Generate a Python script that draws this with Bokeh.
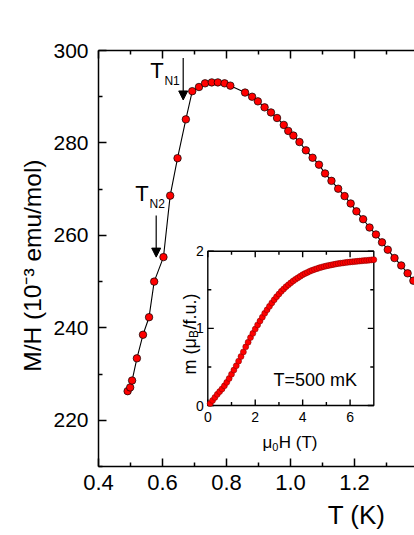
from math import pi
from bokeh.plotting import figure
from bokeh.models import Range1d, LinearAxis, FixedTicker, Label, Arrow, NormalHead, Title
from bokeh.embed import file_html
from bokeh.resources import INLINE
from bokeh.core.properties import value

# ---------------- main data: M/H vs T ----------------
T_K = [0.491, 0.499, 0.505, 0.520, 0.539, 0.558, 0.574, 0.603, 0.624, 0.647,
       0.673, 0.693, 0.714, 0.733, 0.754, 0.773, 0.794, 0.812, 0.858, 0.880,
       0.898, 0.919, 0.939, 0.958, 0.979, 0.993, 1.009, 1.028, 1.048, 1.069,
       1.089, 1.108, 1.128, 1.149, 1.169, 1.188, 1.206, 1.227, 1.247, 1.267,
       1.286, 1.304, 1.325, 1.346, 1.366, 1.384]
MH = [226.3, 227.1, 228.6, 233.4, 238.5, 242.3, 250.0, 255.3, 268.6, 276.7,
      285.1, 291.2, 292.1, 292.9, 293.1, 293.1, 292.9, 292.4, 290.9, 290.0,
      289.0, 287.7, 286.6, 285.4, 283.9, 282.6, 281.6, 280.2, 278.4, 276.8,
      275.3, 273.4, 271.8, 270.1, 268.5, 266.9, 265.2, 263.5, 261.7, 260.2,
      258.5, 256.9, 255.1, 253.5, 251.8, 250.2]

X_TICKS = [0.4, 0.6, 0.8, 1.0, 1.2, 1.4]
X_TICK_LABELS = ["0.4", "0.6", "0.8", "1.0", "1.2", "1.4"]
X_MINOR = [0.5, 0.7, 0.9, 1.1, 1.3]
Y_TICKS = [220, 240, 260, 280, 300]
Y_TICK_LABELS = ["220", "240", "260", "280", "300"]
Y_MINOR = [210, 230, 250, 270, 290]

# transition markers (T, M/H start, M/H end of arrow)
TN1 = (0.6647, 298.4, 289.3)
TN2 = (0.5803, 264.3, 255.3)

# ---------------- inset data: m vs mu0 H ----------------
H_T = [0.1, 0.2, 0.3, 0.4, 0.5, 0.6, 0.7, 0.8, 0.9, 1.0,
       1.1, 1.2, 1.3, 1.4, 1.5, 1.6, 1.7, 1.8, 1.9, 2.0,
       2.1, 2.2, 2.3, 2.4, 2.5, 2.6, 2.7, 2.8, 2.9, 3.0,
       3.1, 3.2, 3.3, 3.4, 3.5, 3.6, 3.7, 3.8, 3.9, 4.0,
       4.1, 4.2, 4.3, 4.4, 4.5, 4.6, 4.7, 4.8, 4.9, 5.0,
       5.1, 5.2, 5.3, 5.4, 5.5, 5.6, 5.7, 5.8, 5.9, 6.0,
       6.1, 6.2, 6.3, 6.4, 6.5, 6.6, 6.7, 6.8, 6.9, 7.0]
M_MUB = [0.025, 0.065, 0.105, 0.145, 0.18, 0.215, 0.255, 0.30, 0.35, 0.405,
         0.46, 0.515, 0.575, 0.635, 0.695, 0.76, 0.82, 0.88, 0.935, 0.99,
         1.045, 1.095, 1.145, 1.195, 1.24, 1.285, 1.33, 1.37, 1.41, 1.445,
         1.48, 1.51, 1.54, 1.565, 1.59, 1.615, 1.635, 1.655, 1.675, 1.695,
         1.71, 1.725, 1.74, 1.752, 1.764, 1.774, 1.784, 1.793, 1.801, 1.809,
         1.816, 1.822, 1.828, 1.834, 1.839, 1.844, 1.848, 1.852, 1.856, 1.86,
         1.863, 1.866, 1.869, 1.872, 1.875, 1.878, 1.881, 1.884, 1.887, 1.89]
INSET_X_TICKS = [0, 2, 4, 6]
INSET_X_LABELS = ["0", "2", "4", "6"]
INSET_X_MINOR = [1, 3, 5]
INSET_Y_TICKS = [0, 1, 2]
INSET_Y_LABELS = ["0", "1", "2"]
INSET_Y_MINOR = [0.5, 1.5]
INSET_XLIM = (0, 7)
INSET_YLIM = (0, 2)

# ---------------- layout ----------------
FONT = "Liberation Sans"
W, H = 414, 535
BL, BR, BT, BB = 98, 0, 50, 69
FW, FH = W - BL - BR, H - BT - BB
X0 = 0.4
X_PER_PX = 0.2 / 64.0
# inset box in px measured from frame left / frame bottom
IN_L, IN_R, IN_B, IN_T = 109.3, 275.3, 61.0, 215.3

p = figure(width=W, height=H, output_backend="svg", toolbar_location=None,
           x_range=Range1d(X0, X0 + FW * X_PER_PX), y_range=Range1d(210, 300),
           min_border_left=BL, min_border_right=BR, min_border_top=BT,
           min_border_bottom=BB, background_fill_color="white",
           border_fill_color="white")
p.outline_line_color = None
p.xgrid.visible = False
p.ygrid.visible = False

# inset ranges
sx = (INSET_XLIM[1] - INSET_XLIM[0]) / (IN_R - IN_L)
sy = (INSET_YLIM[1] - INSET_YLIM[0]) / (IN_T - IN_B)
ixs = INSET_XLIM[0] - IN_L * sx
iys = INSET_YLIM[0] - IN_B * sy
p.extra_x_ranges = {"ix": Range1d(ixs, ixs + FW * sx)}
p.extra_y_ranges = {"iy": Range1d(iys, iys + FH * sy)}


def style_axis(ax, size):
    ax.axis_line_width = 1.5
    ax.axis_line_color = "black"
    ax.major_tick_in = 8
    ax.major_tick_out = 0
    ax.minor_tick_in = 4
    ax.minor_tick_out = 0
    ax.major_tick_line_width = 1.5
    ax.minor_tick_line_width = 1.5
    ax.major_label_text_font = FONT
    ax.major_label_text_font_size = size
    ax.major_label_text_color = "black"


xax = p.xaxis[0]
xax.ticker = FixedTicker(ticks=X_TICKS, minor_ticks=X_MINOR)
xax.major_label_overrides = dict(zip(X_TICKS, X_TICK_LABELS))
style_axis(xax, "22px")
xax.major_label_standoff = 8

yax = p.yaxis[0]
yax.ticker = FixedTicker(ticks=Y_TICKS, minor_ticks=Y_MINOR)
yax.major_label_overrides = dict(zip(Y_TICKS, Y_TICK_LABELS))
style_axis(yax, "21px")
yax.major_label_standoff = 10

top = LinearAxis(ticker=FixedTicker(ticks=X_TICKS, minor_ticks=X_MINOR),
                 major_label_overrides={t: "" for t in X_TICKS})
style_axis(top, "10px")
top.major_label_standoff = 0
p.add_layout(top, "above")

# axis titles (as Titles, so they can be offset along the axis)
p.add_layout(Title(text="T (K)", align="right", offset=29, standoff=10,
                   text_font=FONT, text_font_size="26px",
                   text_font_style="normal", text_color="black"), "below")
p.add_layout(Title(text="M/H (10⁻³ emu/mol)", align="right", offset=109,
                   standoff=10, text_font=FONT, text_font_size="24.5px",
                   text_font_style="normal", text_color="black"), "left")

# main curve
p.line(T_K, MH, line_color="black", line_width=1.1)
p.scatter(T_K, MH, size=7.5, fill_color="#ff0000", line_color="black",
          line_width=0.7)

# arrows and T_N labels
for (tx, y0, y1) in (TN1, TN2):
    p.add_layout(Arrow(x_start=tx, y_start=y0, x_end=tx, y_end=y1,
                       line_color="black", line_width=1.2,
                       end=NormalHead(size=9, fill_color="black",
                                      line_color="black", line_width=1)))
for (lx, ly, sx_, sy_, sub) in ((0.5616, 295.7, 0.6059, 293.5, "N1"),
                                (0.5147, 269.0, 0.5594, 266.8, "N2")):
    p.add_layout(Label(x=lx, y=ly, text="T", text_align="left",
                       text_baseline="alphabetic", text_font=FONT,
                       text_font_size="22px", text_color="black"))
    p.add_layout(Label(x=sx_, y=sy_, text=sub, text_align="left",
                       text_baseline="alphabetic", text_font=FONT,
                       text_font_size="12px", text_color="black"))

# ---------------- inset ----------------
R = dict(x_range_name="ix", y_range_name="iy")
p.quad(left=[INSET_XLIM[0]], right=[INSET_XLIM[1]], bottom=[INSET_YLIM[0]],
       top=[INSET_YLIM[1]], fill_color="white", line_color="black",
       line_width=1.4, **R)


def ticks(xs, ys, angle, length):
    p.ray(x=xs, y=ys, length=length, length_units="screen", angle=angle,
          line_color="black", line_width=1.4, **R)


ticks(INSET_X_TICKS, [INSET_YLIM[0]] * 4, pi / 2, 6)
ticks(INSET_X_TICKS, [INSET_YLIM[1]] * 4, -pi / 2, 6)
ticks(INSET_X_MINOR, [INSET_YLIM[0]] * 3, pi / 2, 3.5)
ticks(INSET_X_MINOR, [INSET_YLIM[1]] * 3, -pi / 2, 3.5)
ticks([INSET_XLIM[0]] * 3, INSET_Y_TICKS, 0, 6)
ticks([INSET_XLIM[1]] * 3, INSET_Y_TICKS, pi, 6)
ticks([INSET_XLIM[0]] * 2, INSET_Y_MINOR, 0, 3.5)
ticks([INSET_XLIM[1]] * 2, INSET_Y_MINOR, pi, 3.5)

p.scatter(H_T, M_MUB, size=6, fill_color="#ff0000", line_color="#7a0000",
          line_width=0.5, **R)

p.text(x=INSET_X_TICKS, y=[INSET_YLIM[0]] * 4, text=INSET_X_LABELS,
       text_align="center", text_baseline="top", y_offset=6,
       text_font=value(FONT), text_font_size=value("14px"),
       text_color="black", **R)
p.text(x=[INSET_XLIM[0]] * 3, y=INSET_Y_TICKS, text=INSET_Y_LABELS,
       text_align="right", text_baseline="middle", x_offset=-4,
       text_font=value(FONT), text_font_size=value("14px"),
       text_color="black", **R)

p.add_layout(Label(x=2.77, y=0.325, text="T=500 mK", text_align="left",
                   text_baseline="alphabetic", text_font=FONT,
                   text_font_size="18px", text_color="black", **R))

# inset x label: mu_0 H (T)
IXL_X, IXL_Y = 164.0, 24.0
p.add_layout(Label(x=IXL_X, y=IXL_Y, x_units="screen", y_units="screen",
                   text="μ", text_font=FONT, text_font_size="17px",
                   text_baseline="alphabetic", text_color="black"))
p.add_layout(Label(x=IXL_X + 9.8, y=IXL_Y - 4, x_units="screen",
                   y_units="screen", text="0", text_font=FONT,
                   text_font_size="11px", text_baseline="alphabetic",
                   text_color="black"))
p.add_layout(Label(x=IXL_X + 16.3, y=IXL_Y, x_units="screen", y_units="screen",
                   text="H (T)", text_font=FONT, text_font_size="17px",
                   text_baseline="alphabetic", text_color="black"))

# inset y label: m (mu_B/f.u.), rotated
IYL_X, IYL_Y = 91.5, 92.0
p.add_layout(Label(x=IYL_X, y=IYL_Y, x_units="screen", y_units="screen",
                   text="m (μ", angle=pi / 2, text_font=FONT,
                   text_font_size="18px", text_baseline="alphabetic",
                   text_color="black"))
p.add_layout(Label(x=IYL_X + 4, y=IYL_Y + 36.4, x_units="screen",
                   y_units="screen", text="B", angle=pi / 2, text_font=FONT,
                   text_font_size="12px", text_baseline="alphabetic",
                   text_color="black"))
p.add_layout(Label(x=IYL_X, y=IYL_Y + 45.0, x_units="screen", y_units="screen",
                   text="/f.u.)", angle=pi / 2, text_font=FONT,
                   text_font_size="18px", text_baseline="alphabetic",
                   text_color="black"))

open("out.html", "w").write(file_html(p, INLINE))
